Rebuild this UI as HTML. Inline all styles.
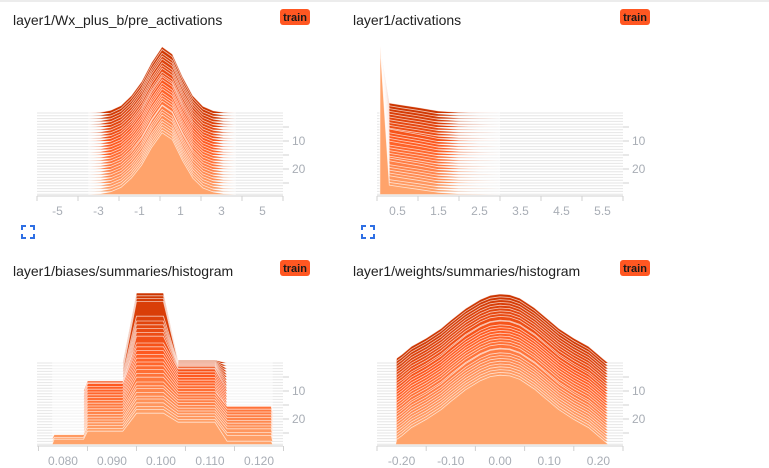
<!DOCTYPE html>
<html><head><meta charset="utf-8">
<style>
html,body{margin:0;padding:0;background:#fff;}
svg{display:block;font-family:"Liberation Sans",sans-serif;}
.title{font-size:14px;fill:#212121;}
.tick{font-size:12px;fill:#a8adb5;}
.badge-t{font-size:11px;font-weight:bold;fill:#1a1a1a;}
</style></head>
<body>
<svg id="root" width="769" height="468" viewBox="0 0 769 468">
<rect x="0" y="0" width="769" height="2" fill="#ececec"/>
</svg>
<script>
// ---------- data ----------
const steps = [0,1,2,3,4,5,6,7,8,9,10,11,12,13,14,15,16,17,18,19,20,21,22,23,24,25,26,27,28,29];
const yTickSteps = [5,10,15,20,25];
const yTickLabels = {10:"10",20:"20"};

// Panel A: pre_activations
const binsA = [-3.6,-3,-2.5,-2,-1.5,-1,-0.5,0,0.5,1,1.5,2,2.5,3,3.6];
const profileA = [0,0.01,0.04,0.11,0.26,0.47,0.76,0.99,0.88,0.54,0.26,0.1,0.035,0.01,0];
const ampA = [67,67,66,66,66,65,65,65,64,64,65,65,64,64,64,63,63,63,63,62,64,63,63,63,62,62,62,62,62,62];
const tickLabelsA = ["-5","-3","-1","1","3","5"];
const tickValsA = [-5,-3,-1,1,3,5];
const tickMarksA = [-6,-4,-2,0,2,4,6];

// Panel B: activations
const binsB = [0.07,0.075,0.3,0.6,1.0,1.5,2.0,2.5,3.0];
const tailB = [0,0,1,0.8,0.55,0.2,0.06,0.02,0];
const spikeB = [66,69,72,74,77,80,83,86,88,91,94,97,100,102,105,108,111,114,116,119,122,125,128,130,133,136,139,142,144,148];
const ampB = [10,10,10,10,10,10,10,10,10,10,12,11,11,11,11,10,10,10,10,10,11,11,10,10,10,10,10,9,9,9];
const tickLabelsB = ["0.5","1.5","2.5","3.5","4.5","5.5"];
const tickValsB = [0.5,1.5,2.5,3.5,4.5,5.5];
const tickMarksB = [0,1,2,3,4,5,6];

// Panel C: biases (region heights per step)
const farLeftC = [0,0,0,0,0,0,0,0,0,0,0,0,0,0,0,0,0,0,0,0,0,0,0,0,0,0,0,4,4,5];
const leftC    = [0,0,0,0,0,0,0,0,0,0,10,11,13,13,13,13,13,13,13,13,13,13,13,13,13,13,13,13,13,13];
const centerC  = [70,70,70,70,58,56,55,54,53,52,48,47,46,45,44,43,42,41,40,39,37,36,36,35,34,34,33,32,32,31];
const rightC   = [3,5,7,9,11,13,15,17,19,20,22,22,22,22,22,22,22,22,22,22,22,22,22,22,22,22,22,22,22,22];
const tailC    = [0,0,0,0,0,0,0,0,0,0,0,0,0,0,0,0,0,0,7,7,7,7,7,7,7,7,7,6,6,3];
const tickLabelsC = ["0.080","0.090","0.100","0.110","0.120"];
const tickValsC = [0.080,0.090,0.100,0.110,0.120];
const tickMarksC = [0.075,0.085,0.095,0.105,0.115,0.125];

// Panel D: weights
const binsD = [-0.212,-0.21,-0.2,-0.18,-0.15,-0.12,-0.1,-0.07,-0.04,-0.02,0,0.02,0.04,0.07,0.1,0.12,0.15,0.18,0.2,0.21,0.22];
const profileD = [0,0.07,0.12,0.24,0.36,0.5,0.62,0.79,0.92,0.98,1,0.99,0.94,0.8,0.62,0.5,0.36,0.24,0.12,0.06,0];
const ampD = [69,69,69,69,69,69,69,69,69,68,70,69,69,69,69,69,69,69,69,68,70,69,69,69,69,69,69,69,69,69];
const tickLabelsD = ["-0.20","-0.10","0.00","0.10","0.20"];
const tickValsD = [-0.2,-0.1,0,0.1,0.2];
const tickMarksD = [-0.25,-0.15,-0.05,0.05,0.15,0.25];

// ---------- rendering ----------
const NS = "http://www.w3.org/2000/svg";
const root = document.getElementById('root');
function mk(tag, attrs, parent){
  const e = document.createElementNS(NS, tag);
  for (const k in attrs) e.setAttribute(k, attrs[k]);
  (parent||root).appendChild(e);
  return e;
}
function hex(c){return [parseInt(c.slice(1,3),16),parseInt(c.slice(3,5),16),parseInt(c.slice(5,7),16)];}
const cStops = [[0,hex("#cc3500")],[0.42,hex("#ff5a20")],[1,hex("#ffa36b")]];
function colorFor(s){
  const t = s/(steps.length-1);
  let a=cStops[0], b=cStops[1];
  if (t>cStops[1][0]){a=cStops[1]; b=cStops[2];}
  const u=(t-a[0])/(b[0]-a[0]);
  const c=a[1].map((v,i)=>Math.round(v+(b[1][i]-v)*u));
  return "rgb("+c.join(",")+")";
}

function panel(o){
  const g = mk('g',{});
  
  
  const t = mk('text',{x:o.left-24, y:o.titleY, class:'title'}, g);
  t.textContent = o.title;
  
  
  const bg = mk('g',{}, g);
  
  
  mk('rect',{x:o.badgeX, y:o.titleY-16, width:30, height:16, rx:3, fill:'#ff5722'}, bg);
  const bt = mk('text',{x:o.badgeX+15, y:o.titleY-4, 'text-anchor':'middle', class:'badge-t'}, bg);
  bt.textContent = 'train';

  const xs = v => o.left + (v - o.d0)/(o.d1 - o.d0)*(o.right - o.left);
  const ys = s => o.y0 + s*o.stepPx;
  const plot = mk('g',{}, g);
  
  
  steps.forEach(s=>{
    const by = ys(s);
    const ln = mk('line',{x1:o.left, x2:o.right, y1:by, y2:by, stroke:'#e6e6e6', 'stroke-width':1}, plot);
    
    
    const pts = o.points(s);
    let top = '';
    pts.forEach((p,i)=>{ top += (i?' L':'M')+xs(p[0]).toFixed(1)+','+(by-p[1]).toFixed(1); });
    const d = 'M'+xs(pts[0][0]).toFixed(1)+','+by+' '+top.replace('M','L')+' L'+xs(pts[pts.length-1][0]).toFixed(1)+','+by+' Z';
    const p = mk('path',{d:d, fill:colorFor(s)}, plot);
    
    
    const tl = mk('path',{d:top, fill:'none', stroke:'#fff', 'stroke-width':0.8, 'stroke-opacity':0.7}, plot);
    
    
  });
  const ax = mk('g',{}, g);
  
  
  mk('line',{x1:o.left, x2:o.right, y1:o.axisY, y2:o.axisY, stroke:'#d0d0d0'}, ax);
  o.tickMarks.forEach(v=>{
    mk('line',{x1:xs(v), x2:xs(v), y1:o.axisY, y2:o.axisY+5, stroke:'#d0d0d0'}, ax);
  });
  o.tickVals.forEach((v,i)=>{
    const tt = mk('text',{x:xs(v), y:o.axisY+19, 'text-anchor':'middle', class:'tick'}, ax);
    tt.textContent = o.tickLabels[i];
    
    
  });
  const ay = mk('g',{}, g);
  
  
  yTickSteps.forEach(s=>{
    const yy = ys(s);
    mk('line',{x1:o.right, x2:o.right+6, y1:yy, y2:yy, stroke:'#d0d0d0'}, ay);
    if (yTickLabels[s]){
      const tt = mk('text',{x:o.right+9, y:yy+4, class:'tick'}, ay);
      tt.textContent = yTickLabels[s];
      
      
    }
  });
  if (o.expand){
    const eg = mk('g',{stroke:'#2f6fe4', 'stroke-width':2, fill:'none'}, g);
    
    
    const x=o.left-15, y=o.axisY+30, w=12;
    mk('path',{d:`M${x},${y+4} V${y} H${x+4} M${x+w-4},${y} H${x+w} V${y+4} M${x+w},${y+w-4} V${y+w} H${x+w-4} M${x+4},${y+w} H${x} V${y+w-4}`}, eg);
  }
}

panel({name:'panel-pre-activations', title:'layer1/Wx_plus_b/pre_activations', titleY:25, badgeX:280,
  left:37, right:283, d0:-6, d1:6, y0:113, stepPx:2.8, axisY:196,
  tickMarks:tickMarksA, tickVals:tickValsA, tickLabels:tickLabelsA, expand:true,
  points:s=>binsA.map((b,i)=>[b+0.1, profileA[i]*ampA[s]])});

panel({name:'panel-activations', title:'layer1/activations', titleY:25, badgeX:620,
  left:377, right:623, d0:0, d1:6, y0:113, stepPx:2.8, axisY:196,
  tickMarks:tickMarksB, tickVals:tickValsB, tickLabels:tickLabelsB, expand:true,
  points:s=>binsB.map((b,i)=>[b, i===1 ? spikeB[s] : tailB[i]*ampB[s]])});

panel({name:'panel-biases', title:'layer1/biases/summaries/histogram', titleY:276, badgeX:280,
  left:37, right:283, d0:0.0747, d1:0.1249, y0:363, stepPx:2.8, axisY:446,
  tickMarks:tickMarksC, tickVals:tickValsC, tickLabels:tickLabelsC, expand:false,
  points:s=>[[0.0778,0],[0.0782,farLeftC[s]],[0.0842,farLeftC[s]],[0.0850,leftC[s]],[0.0922,leftC[s]],
    [0.0950,centerC[s]],[0.1005,centerC[s]],[0.1035,rightC[s]],[0.1110,rightC[s]],[0.1135,tailC[s]],[0.1225,tailC[s]],[0.1228,0]]});

panel({name:'panel-weights', title:'layer1/weights/summaries/histogram', titleY:276, badgeX:620,
  left:377, right:623, d0:-0.25, d1:0.25, y0:363, stepPx:2.8, axisY:446,
  tickMarks:tickMarksD, tickVals:tickValsD, tickLabels:tickLabelsD, expand:false,
  points:s=>binsD.map((b,i)=>[b, profileD[i]*ampD[s]])});
</script>
</body></html>
